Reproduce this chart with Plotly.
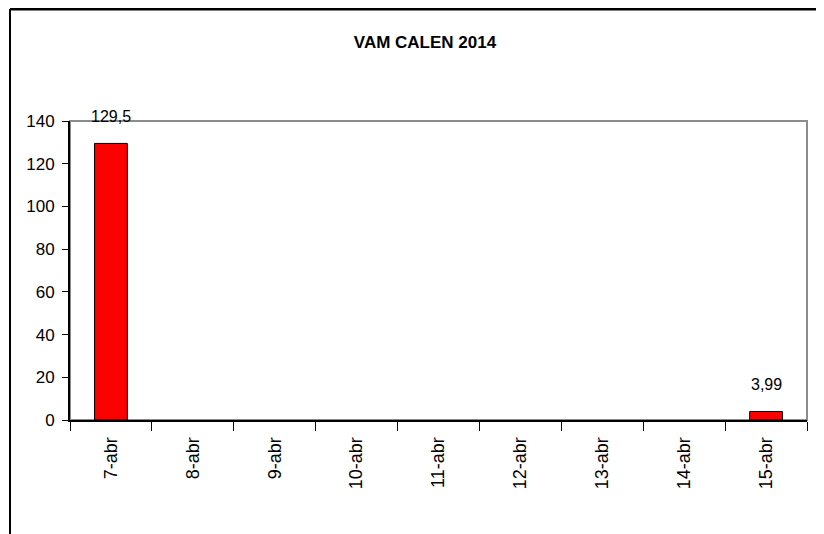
import plotly.graph_objects as go

categories = ["7-abr", "8-abr", "9-abr", "10-abr", "11-abr", "12-abr", "13-abr", "14-abr", "15-abr"]
values = [129.5, None, None, None, None, None, None, None, 3.99]
value_labels = ["129,5", "", "", "", "", "", "", "", "3,99"]
y_ticks = [0, 20, 40, 60, 80, 100, 120, 140]
title_text = "VAM CALEN 2014"

# page body has an 8px margin, so the figure is drawn 8px smaller and offset
OFF = 8
W, H = 824 - OFF, 534 - OFF
L, R, T, B = 70 - OFF, 17, 121 - OFF, 114
pw, ph = W - L - R, H - T - B

FONT = "Liberation Sans, Arial"

fig = go.Figure()
fig.add_trace(go.Bar(
    x=categories, y=values, width=0.4,
    marker=dict(color="#FF0000", line=dict(color="#000000", width=1)),
    hoverinfo="x+y",
))

for c, v, lab in zip(categories, values, value_labels):
    if v is not None and lab:
        fig.add_annotation(x=c, y=v, text=lab, showarrow=False, yanchor="bottom",
                           yshift=16, font=dict(family=FONT, size=16, color="#000"))

# plot area gray frame (top/right)
fig.add_shape(type="rect", xref="paper", yref="paper", x0=0, x1=1, y0=0, y1=1,
              line=dict(color="#8c8c8c", width=2), layer="below")

# outer chart frame (top and left)
fx = (10 - OFF - L) / pw
fy = (H - B - 1) / ph
fig.add_shape(type="line", xref="paper", yref="paper", x0=fx, x1=1.2, y0=fy, y1=fy,
              line=dict(color="#000", width=3), layer="above")
fig.add_shape(type="line", xref="paper", yref="paper", x0=fx, x1=fx, y0=fy, y1=-1,
              line=dict(color="#000", width=2), layer="above")

fig.update_layout(
    width=W, height=H,
    margin=dict(l=L, r=R, t=T, b=B),
    paper_bgcolor="#ffffff", plot_bgcolor="#ffffff",
    showlegend=False,
    title=dict(text="<b>" + title_text + "</b>", x=(425 - OFF) / W, xanchor="center",
               y=1 - (42 - OFF) / H, yanchor="middle",
               font=dict(family=FONT, size=17, color="#000")),
    font=dict(family=FONT, color="#000"),
)
fig.update_xaxes(
    type="category", categoryorder="array", categoryarray=categories,
    range=[-0.5, len(categories) - 0.5],
    showline=True, linecolor="#000", linewidth=2,
    ticks="outside", tickson="boundaries", ticklen=9, tickcolor="#000", tickwidth=1,
    tickangle=-90, tickfont=dict(family=FONT, size=18, color="#000"),
    ticklabelstandoff=8,
    showgrid=False, zeroline=False,
)
fig.update_yaxes(
    range=[0, 140], tickvals=y_ticks, ticktext=[str(t) for t in y_ticks],
    showline=True, linecolor="#000", linewidth=2,
    ticks="outside", ticklen=6, tickcolor="#000", tickwidth=1,
    tickfont=dict(family=FONT, size=17, color="#000"),
    ticklabelstandoff=4,
    showgrid=False, zeroline=False,
)

fig.write_html("out.html")
